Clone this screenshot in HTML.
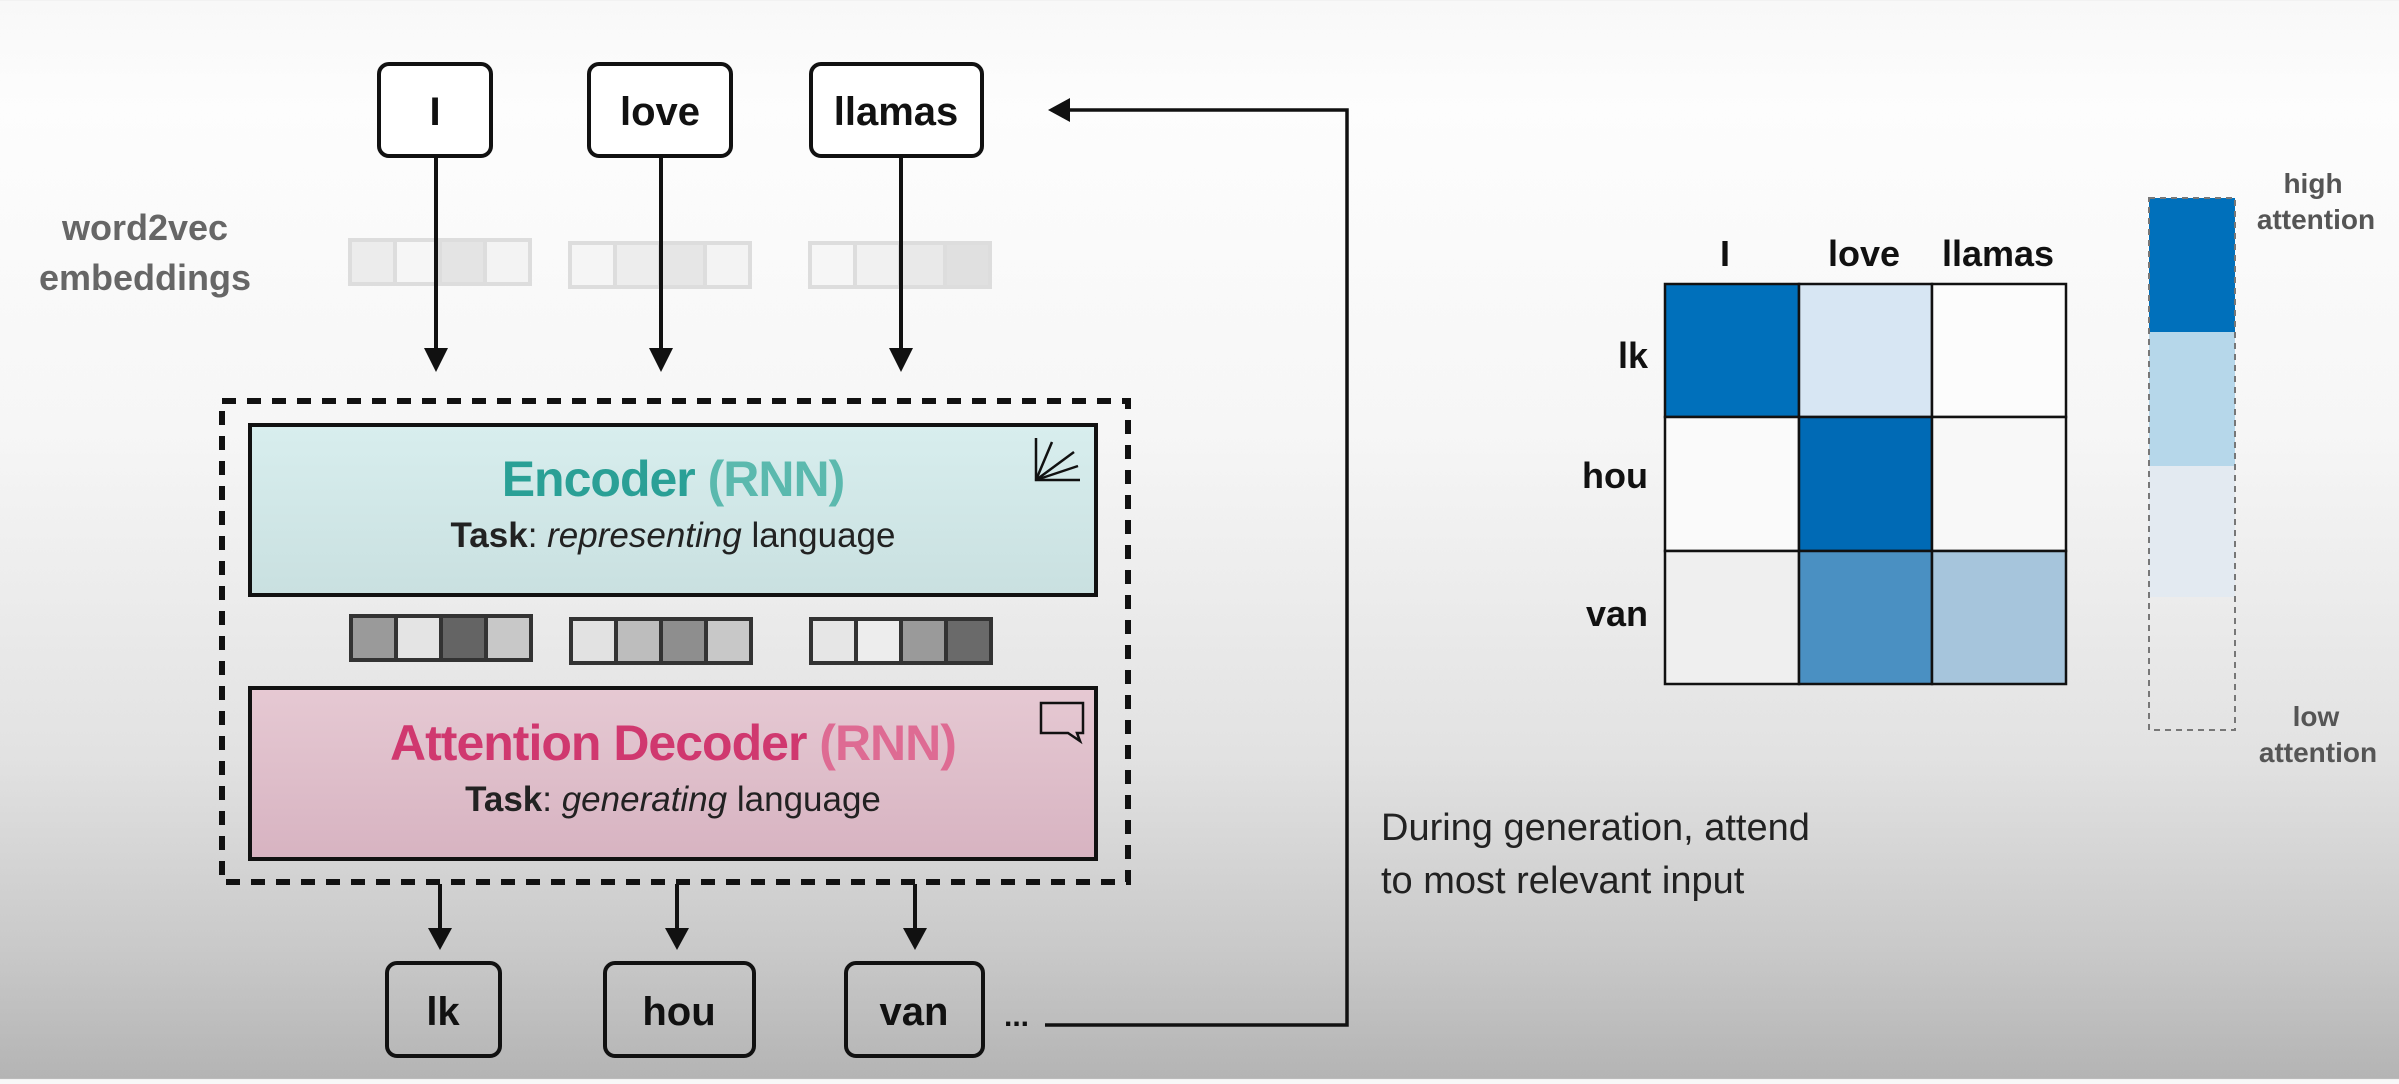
<!DOCTYPE html>
<html><head><meta charset="utf-8"><style>
html,body{margin:0;padding:0}
body{width:2399px;height:1079px;overflow:hidden;background:linear-gradient(#f8f8f8 0%,#fdfdfd 10%,#f6f6f6 40%,#e2e2e2 70%,#c9c9c9 88%,#b4b4b4 100%);font-family:"Liberation Sans",sans-serif}
</style></head><body>
<svg width="2399" height="1079" xmlns="http://www.w3.org/2000/svg" font-family="Liberation Sans, sans-serif">
<defs>
<linearGradient id="enc" x1="0" y1="0" x2="0" y2="1"><stop offset="0" stop-color="#d8eeee"/><stop offset="1" stop-color="#c9e0e0"/></linearGradient>
<linearGradient id="dec" x1="0" y1="0" x2="0" y2="1"><stop offset="0" stop-color="#e6c9d3"/><stop offset="1" stop-color="#d7b3c1"/></linearGradient>
</defs>
<g stroke="#111" stroke-width="4" fill="#fff">
<rect x="379" y="64" width="112" height="92" rx="10"/>
<rect x="589" y="64" width="142" height="92" rx="10"/>
<rect x="811" y="64" width="171" height="92" rx="10"/>
<rect x="387" y="963" width="113" height="93" rx="10" fill="none"/>
<rect x="605" y="963" width="149" height="93" rx="10" fill="none"/>
<rect x="846" y="963" width="137" height="93" rx="10" fill="none"/>
</g>
<g font-size="40" text-anchor="middle" fill="#111" font-weight="bold">
<text x="435" y="125">I</text><text x="660" y="125">love</text><text x="896" y="125">llamas</text>
<text x="443" y="1025">lk</text><text x="679" y="1025">hou</text><text x="914" y="1025">van</text>
</g>
<text x="1004" y="1026" font-size="30" font-weight="bold" fill="#111">...</text>
<g font-size="36" fill="#666" text-anchor="middle" font-weight="bold"><text x="145" y="240">word2vec</text><text x="145" y="290">embeddings</text></g>
<g stroke="#ddd" stroke-width="4">
<rect x="350" y="240" width="45" height="44" fill="#ececec"/><rect x="395" y="240" width="45" height="44" fill="#f6f6f6"/><rect x="440" y="240" width="45" height="44" fill="#e4e4e4"/><rect x="485" y="240" width="45" height="44" fill="#f3f3f3"/>
<rect x="570" y="243" width="45" height="44" fill="#f5f5f5"/><rect x="615" y="243" width="45" height="44" fill="#ededed"/><rect x="660" y="243" width="45" height="44" fill="#e6e6e6"/><rect x="705" y="243" width="45" height="44" fill="#f3f3f3"/>
<rect x="810" y="243" width="45" height="44" fill="#f6f6f6"/><rect x="855" y="243" width="45" height="44" fill="#f1f1f1"/><rect x="900" y="243" width="45" height="44" fill="#e9e9e9"/><rect x="945" y="243" width="45" height="44" fill="#e0e0e0"/>
</g>
<g stroke="#111" stroke-width="4" fill="none">
<line x1="436" y1="156" x2="436" y2="352"/><line x1="661" y1="156" x2="661" y2="352"/><line x1="901" y1="156" x2="901" y2="352"/>
<line x1="440" y1="884" x2="440" y2="932"/><line x1="677" y1="884" x2="677" y2="932"/><line x1="915" y1="884" x2="915" y2="932"/>
<polyline points="1045,1025 1347,1025 1347,110 1065,110" stroke-width="3.5"/>
</g>
<g fill="#111">
<path d="M424,348 L448,348 L436,372z"/><path d="M649,348 L673,348 L661,372z"/><path d="M889,348 L913,348 L901,372z"/>
<path d="M428,928 L452,928 L440,950z"/><path d="M665,928 L689,928 L677,950z"/><path d="M903,928 L927,928 L915,950z"/>
<path d="M1070,98 L1070,122 L1048,110z"/>
</g>
<rect x="222" y="401" width="906" height="481" fill="none" stroke="#111" stroke-width="6" stroke-dasharray="14,11"/>
<rect x="250" y="425" width="846" height="170" fill="url(#enc)" stroke="#111" stroke-width="4"/>
<rect x="250" y="688" width="846" height="171" fill="url(#dec)" stroke="#111" stroke-width="4"/>
<text x="673" y="496" font-size="50" font-weight="bold" text-anchor="middle" fill="#2aa096" letter-spacing="-1">Encoder <tspan fill="#5bb9ae">(RNN)</tspan></text>
<text x="673" y="547" font-size="35" text-anchor="middle" fill="#222"><tspan font-weight="bold">Task</tspan>: <tspan font-style="italic">representing</tspan> language</text>
<text x="673" y="760" font-size="50" font-weight="bold" text-anchor="middle" fill="#d0386f" letter-spacing="-1">Attention Decoder <tspan fill="#de6b93">(RNN)</tspan></text>
<text x="673" y="811" font-size="35" text-anchor="middle" fill="#222"><tspan font-weight="bold">Task</tspan>: <tspan font-style="italic">generating</tspan> language</text>
<g stroke="#111" stroke-width="2.5" fill="none">
<polyline points="1036,438 1036,480 1080,480"/><line x1="1036" y1="480" x2="1052" y2="442"/><line x1="1036" y1="480" x2="1074" y2="452"/><line x1="1036" y1="480" x2="1078" y2="466"/>
<path d="M1041,703 h42 v30 h-6 l3,8 l-12,-8 h-27z"/>
</g>
<g stroke="#333" stroke-width="4">
<rect x="351" y="616" width="45" height="44" fill="#9a9a9a"/><rect x="396" y="616" width="45" height="44" fill="#e4e4e4"/><rect x="441" y="616" width="45" height="44" fill="#646464"/><rect x="486" y="616" width="45" height="44" fill="#c8c8c8"/>
<rect x="571" y="619" width="45" height="44" fill="#e2e2e2"/><rect x="616" y="619" width="45" height="44" fill="#bdbdbd"/><rect x="661" y="619" width="45" height="44" fill="#8e8e8e"/><rect x="706" y="619" width="45" height="44" fill="#c8c8c8"/>
<rect x="811" y="619" width="45" height="44" fill="#e6e6e6"/><rect x="856" y="619" width="45" height="44" fill="#ededed"/><rect x="901" y="619" width="45" height="44" fill="#9a9a9a"/><rect x="946" y="619" width="45" height="44" fill="#6a6a6a"/>
</g>
<g stroke="#111" stroke-width="2.5">
<rect x="1665" y="284" width="134" height="133" fill="#0070bb"/>
<rect x="1799" y="284" width="133" height="133" fill="#d7e6f3"/>
<rect x="1932" y="284" width="134" height="133" fill="#fcfcfc"/>
<rect x="1665" y="417" width="134" height="134" fill="#fafafa"/>
<rect x="1799" y="417" width="133" height="134" fill="#006ab5"/>
<rect x="1932" y="417" width="134" height="134" fill="#f8f8f8"/>
<rect x="1665" y="551" width="134" height="133" fill="#efefef"/>
<rect x="1799" y="551" width="133" height="133" fill="#4a90c2"/>
<rect x="1932" y="551" width="134" height="133" fill="#a6c5dc"/>
</g>
<g font-size="36" font-weight="bold" fill="#111">
<g text-anchor="middle"><text x="1725" y="266">I</text><text x="1864" y="266">love</text><text x="1998" y="266">llamas</text></g>
<g text-anchor="end"><text x="1648" y="368">lk</text><text x="1648" y="488">hou</text><text x="1648" y="626">van</text></g>
</g>
<rect x="2149" y="198" width="86" height="134" fill="#0070bb"/>
<rect x="2149" y="332" width="86" height="134" fill="#b6d7ea"/>
<rect x="2149" y="466" width="86" height="131" fill="#e3eaf1"/>
<rect x="2149" y="198" width="86" height="532" fill="none" stroke="#777" stroke-width="2" stroke-dasharray="6,5"/>
<g font-size="28" fill="#555" text-anchor="middle" font-weight="bold">
<text x="2313" y="193">high</text><text x="2316" y="229">attention</text>
<text x="2316" y="726">low</text><text x="2318" y="762">attention</text>
</g>
<g font-size="38" fill="#222"><text x="1381" y="840">During generation, attend</text><text x="1381" y="893">to most relevant input</text></g>
</svg>
</body></html>
